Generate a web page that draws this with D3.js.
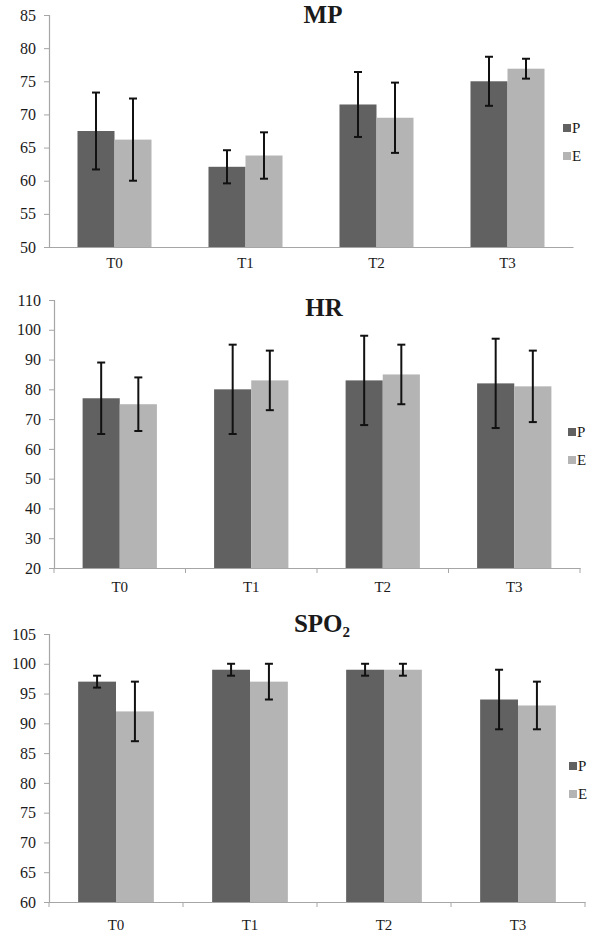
<!DOCTYPE html>
<html><head><meta charset="utf-8">
<script src="https://cdn.jsdelivr.net/npm/d3@7"></script>
<style>
html,body{margin:0;padding:0;background:#fff;}
svg text{font-family:"Liberation Serif","Times New Roman",serif !important;fill:#1a1a1a;}
</style></head>
<body>
<svg id="chart" width="600" height="936"></svg>
<script>
const categories = ["T0", "T1", "T2", "T3"];
const seriesNames = ["P", "E"];

const mpP = [67.5, 62.1, 71.5, 75.0];
const mpPsd = [5.8, 2.5, 4.9, 3.7];
const mpE = [66.2, 63.8, 69.5, 76.9];
const mpEsd = [6.2, 3.5, 5.3, 1.5];
const mpTicks = [50, 55, 60, 65, 70, 75, 80, 85];

const hrP = [77, 80, 83, 82];
const hrPsd = [12, 15, 15, 15];
const hrE = [75, 83, 85, 81];
const hrEsd = [9, 10, 10, 12];
const hrTicks = [20, 30, 40, 50, 60, 70, 80, 90, 100, 110];

const spP = [97, 99, 99, 94];
const spPsd = [1, 1, 1, 5];
const spE = [92, 97, 99, 93];
const spEsd = [5, 3, 1, 4];
const spTicks = [60, 65, 70, 75, 80, 85, 90, 95, 100, 105];

const colors = {P: "#616161", E: "#b4b4b4"};
const serif = '"Liberation Serif","Times New Roman",serif';

const panels = [
  {title: "MP", sub: null, P: mpP, Psd: mpPsd, E: mpE, Esd: mpEsd, ticks: mpTicks,
   x0: 49, x1: 573, yTop: 15, yBot: 247, titleX: 323, titleY: 23, xTicks: false,
   legX: 563, legY: 124, labelY: 268},
  {title: "HR", sub: null, P: hrP, Psd: hrPsd, E: hrE, Esd: hrEsd, ticks: hrTicks,
   x0: 54, x1: 580, yTop: 300, yBot: 568, titleX: 324, titleY: 316, xTicks: true,
   legX: 568, legY: 428, labelY: 592},
  {title: "SPO", sub: "2", P: spP, Psd: spPsd, E: spE, Esd: spEsd, ticks: spTicks,
   x0: 49, x1: 585, yTop: 634, yBot: 902, titleX: 322, titleY: 632, xTicks: true,
   legX: 569, legY: 762, labelY: 930}
];

const svg = d3.select("#chart");

panels.forEach(p => {
  const g = svg.append("g");
  const x = d3.scaleBand().domain(categories).range([p.x0, p.x1]).padding(0);
  const bw = x.bandwidth();
  const xs = d3.scaleBand().domain(seriesNames).range([bw * 0.2175, bw * 0.7825]).padding(0);
  const y = d3.scaleLinear().domain([p.ticks[0], p.ticks[p.ticks.length - 1]]).range([p.yBot, p.yTop]);

  // y axis
  const yAxis = d3.axisLeft(y).tickValues(p.ticks).tickSize(5).tickPadding(8).tickFormat(d3.format("d"));
  const ya = g.append("g").attr("transform", `translate(${p.x0},0)`).call(yAxis)
    .attr("font-family", serif).attr("font-size", 16);
  ya.select(".domain").attr("stroke", "#a6a6a6").attr("stroke-width", 1.2);
  ya.selectAll(".tick line").attr("stroke", "#a6a6a6");
  ya.selectAll(".tick text").style("font-size", "16px").style("font-family", serif).attr("fill", "#1a1a1a");

  // x axis
  const xAxis = d3.axisBottom(x).tickSize(0).tickPadding(0);
  const xa = g.append("g").attr("transform", `translate(0,${p.yBot})`).call(xAxis);
  xa.select(".domain").attr("stroke", "#a6a6a6").attr("stroke-width", 1.2);
  xa.selectAll(".tick text").remove();
  xa.selectAll(".tick line").remove();
  if (p.xTicks) {
    const bounds = categories.map(c => x(c)).concat([p.x1]);
    g.selectAll(".xtick").data(bounds).join("line")
      .attr("x1", d => d).attr("x2", d => d)
      .attr("y1", p.yBot).attr("y2", p.yBot + 5)
      .attr("stroke", "#a6a6a6").attr("stroke-width", 1);
  }
  g.selectAll(".xlab").data(categories).join("text")
    .attr("x", d => x(d) + bw / 2).attr("y", p.labelY)
    .attr("text-anchor", "middle").style("font-size", "15px").style("font-family", serif).text(d => d);

  // bars
  const rows = [];
  categories.forEach((c, i) => {
    rows.push({c, s: "P", v: p.P[i], sd: p.Psd[i]});
    rows.push({c, s: "E", v: p.E[i], sd: p.Esd[i]});
  });
  g.selectAll(".bar").data(rows).join("rect")
    .attr("x", d => x(d.c) + xs(d.s))
    .attr("width", xs.bandwidth())
    .attr("y", d => y(d.v))
    .attr("height", d => p.yBot - y(d.v))
    .attr("fill", d => colors[d.s]);

  // error bars
  const eg = g.selectAll(".err").data(rows).join("g")
    .attr("transform", d => `translate(${x(d.c) + xs(d.s) + xs.bandwidth() / 2},0)`);
  eg.append("line").attr("x1", 0).attr("x2", 0)
    .attr("y1", d => y(d.v + d.sd)).attr("y2", d => y(d.v - d.sd))
    .attr("stroke", "#111").attr("stroke-width", 2);
  eg.append("line").attr("x1", -4).attr("x2", 4)
    .attr("y1", d => y(d.v + d.sd)).attr("y2", d => y(d.v + d.sd))
    .attr("stroke", "#111").attr("stroke-width", 2);
  eg.append("line").attr("x1", -4).attr("x2", 4)
    .attr("y1", d => y(d.v - d.sd)).attr("y2", d => y(d.v - d.sd))
    .attr("stroke", "#111").attr("stroke-width", 2);

  // title
  const t = g.append("text").attr("x", p.titleX).attr("y", p.titleY)
    .attr("text-anchor", "middle").style("font-size", "25px").style("font-weight", "bold")
    .style("font-family", serif).text(p.title);
  if (p.sub) {
    t.append("tspan").attr("dy", 5).style("font-size", "15px").text(p.sub);
  }

  // legend
  seriesNames.forEach((s, i) => {
    const ly = p.legY + i * 28;
    g.append("rect").attr("x", p.legX).attr("y", ly).attr("width", 8).attr("height", 8).attr("fill", colors[s]);
    g.append("text").attr("x", p.legX + 9).attr("y", ly + 9).style("font-size", "15px")
      .style("font-family", serif).text(s);
  });
});
</script>
</body></html>
